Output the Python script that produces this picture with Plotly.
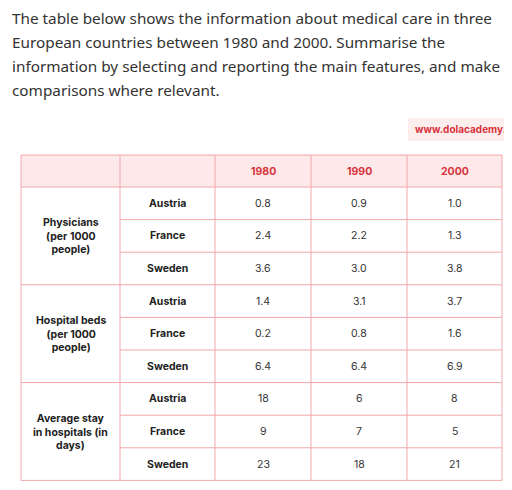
import plotly.graph_objects as go

years = ["1980", "1990", "2000"]
groups = ["Physicians<br>(per 1000<br>people)", "Hospital beds<br>(per 1000<br>people)", "Average stay<br>in hospitals (in<br>days)"]
countries = ["Austria", "France", "Sweden"]
physicians = [["0.8", "0.9", "1.0"], ["2.4", "2.2", "1.3"], ["3.6", "3.0", "3.8"]]
beds = [["1.4", "3.1", "3.7"], ["0.2", "0.8", "1.6"], ["6.4", "6.4", "6.9"]]
stay = [["18", "6", "8"], ["9", "7", "5"], ["23", "18", "21"]]
values = [physicians, beds, stay]
intro = ["The table below shows the information about medical care in three",
         "European countries between 1980 and 2000. Summarise the",
         "information by selecting and reporting the main features, and make",
         "comparisons where relevant."]

W, H, OFF = 512, 490, 8
colx = [21, 120, 215, 311, 407, 502]
top, hdr_h, row_h = 155, 32, 32.6
line = "#f2a7aa"
fig = go.Figure()
fig.add_trace(go.Scatter(x=[OFF, W], y=[OFF, H], mode="markers", marker=dict(opacity=0), hoverinfo="skip", showlegend=False))
shapes, ann = [], []
total_h = hdr_h + 9 * row_h
shapes.append(dict(type="rect", x0=colx[0], x1=colx[-1], y0=top, y1=top + hdr_h, fillcolor="#fde9ea", line=dict(width=0), layer="below"))
shapes.append(dict(type="rect", x0=colx[0], x1=colx[-1], y0=top, y1=top + total_h, line=dict(color=line, width=1)))
for c in colx[1:-1]:
    shapes.append(dict(type="line", x0=c, x1=c, y0=top, y1=top + total_h, line=dict(color=line, width=1)))
shapes.append(dict(type="line", x0=colx[0], x1=colx[-1], y0=top + hdr_h, y1=top + hdr_h, line=dict(color=line, width=1)))
for r in range(1, 9):
    y = top + hdr_h + r * row_h
    x0 = colx[0] if r % 3 == 0 else colx[1]
    shapes.append(dict(type="line", x0=x0, x1=colx[-1], y0=y, y1=y, line=dict(color=line, width=1)))
for j, yr in enumerate(years):
    ann.append(dict(x=(colx[2 + j] + colx[3 + j]) / 2, y=top + hdr_h / 2, text="<b>" + yr + "</b>", showarrow=False,
                    font=dict(size=10.5, color="#d8343c", family="Inter")))
for g, gname in enumerate(groups):
    gy = top + hdr_h + (3 * g + 1.5) * row_h
    ann.append(dict(x=(colx[0] + colx[1]) / 2, y=gy, text="<b>" + gname + "</b>", showarrow=False,
                    font=dict(size=10.5, color="#222", family="Inter")))
    for i, c in enumerate(countries):
        ry = top + hdr_h + (3 * g + i + 0.5) * row_h
        ann.append(dict(x=(colx[1] + colx[2]) / 2, y=ry, text="<b>" + c + "</b>", showarrow=False,
                        font=dict(size=10.5, color="#222", family="Inter")))
        for j in range(3):
            ann.append(dict(x=(colx[2 + j] + colx[3 + j]) / 2, y=ry, text=values[g][i][j], showarrow=False,
                            font=dict(size=10.5, color="#333", family="Inter")))
for k, t in enumerate(intro):
    ann.append(dict(x=10, y=17.5 + k * 24.1, text=t, showarrow=False, xanchor="left",
                    font=dict(size=15.3, color="#333", family="Noto Sans")))
shapes.append(dict(type="rect", x0=408, x1=515, y0=118, y1=141, fillcolor="#fdeeee", line=dict(width=0), layer="below"))
ann.append(dict(x=413, y=129.5, text="<b>www.dolacademy.</b>", showarrow=False, xanchor="left",
                font=dict(size=10, color="#d8343c", family="Inter")))

fig.update_layout(width=W - OFF, height=H - OFF, margin=dict(l=0, r=0, t=0, b=0), plot_bgcolor="white", paper_bgcolor="white",
                  xaxis=dict(range=[OFF, W], visible=False, fixedrange=True),
                  yaxis=dict(range=[H, OFF], visible=False, fixedrange=True),
                  shapes=shapes, annotations=ann)
fig.write_html("out.html", config={"displayModeBar": False})
